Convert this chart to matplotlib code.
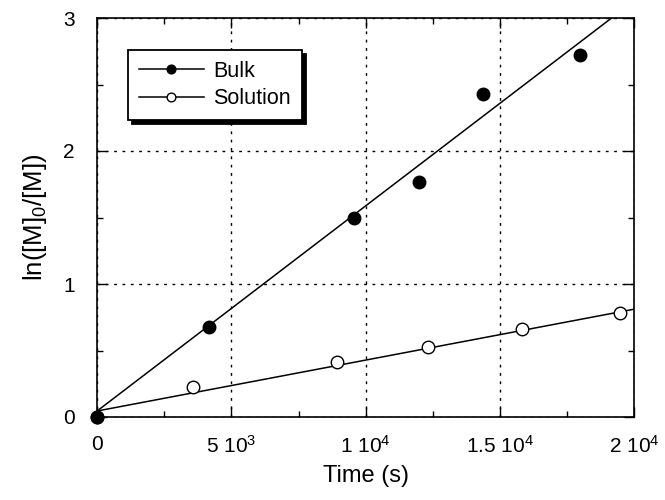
import numpy as np
import matplotlib
matplotlib.use("Agg")
import matplotlib.pyplot as plt
from matplotlib.ticker import FixedLocator, MultipleLocator

plt.rcParams['font.family'] = ['Liberation Sans', 'DejaVu Sans']
plt.rcParams['mathtext.fontset'] = 'custom'
plt.rcParams['mathtext.rm'] = 'Liberation Sans'
plt.rcParams['mathtext.it'] = 'Liberation Sans'

# Data
bulk_t = [0, 4160, 9550, 11970, 14350, 17990]
bulk_y = [0, 0.68, 1.50, 1.77, 2.43, 2.72]
sol_t = [0, 3570, 8920, 12300, 15800, 19480]
sol_y = [0, 0.225, 0.41, 0.53, 0.66, 0.785]
# fitted lines (intercept, slope)
bulk_fit = (0.045, 1.543e-4)
sol_fit = (0.045, 3.83e-5)

xticks = [0, 5000, 10000, 15000, 20000]
xticklabels = ['0', '5 10$^3$', '1 10$^4$', '1.5 10$^4$', '2 10$^4$']
yticks = [0, 1, 2, 3]

fig = plt.figure(figsize=(6.65, 5.0), dpi=100)
ax = fig.add_axes([0.146, 0.166, 0.808, 0.798])

tt = np.array([0, 20000])
ax.plot(tt, bulk_fit[0] + bulk_fit[1] * tt, color='black', lw=1.1, zorder=3)
ax.plot(tt, sol_fit[0] + sol_fit[1] * tt, color='black', lw=1.1, zorder=3)
ax.plot(sol_t, sol_y, 'o', mfc='white', mec='black', ms=9, mew=1.0, zorder=4, clip_on=False)
ax.plot(bulk_t, bulk_y, 'o', mfc='black', mec='black', ms=9, zorder=5, clip_on=False)

# legend handles
h1, = ax.plot([], [], '-o', color='black', mfc='black', ms=9, lw=1.1)
h2, = ax.plot([], [], '-o', color='black', mfc='white', ms=9, lw=1.1, mew=1.0)
leg = ax.legend([h1, h2], ['Bulk', 'Solution'], loc='upper left',
                bbox_to_anchor=(0.058, 0.92), borderaxespad=0.0,
                frameon=True, fancybox=False,
                shadow={'ox': 3, 'oy': -3, 'color': 'black', 'alpha': 1.0},
                edgecolor='black', framealpha=1.0, fontsize=15.5,
                handlelength=3.0, markerscale=0.7,
                borderpad=0.5, labelspacing=0.3, handletextpad=0.45)
leg.get_frame().set_linewidth(1.3)

ax.set_xlim(0, 20000)
ax.set_ylim(0, 3)
ax.xaxis.set_major_locator(FixedLocator(xticks))
ax.set_xticklabels(xticklabels)
ax.yaxis.set_major_locator(FixedLocator(yticks))
ax.xaxis.set_minor_locator(MultipleLocator(2500))
ax.yaxis.set_minor_locator(MultipleLocator(0.5))
ax.tick_params(which='both', direction='in', top=True, right=True, labelsize=15)
ax.tick_params(which='major', length=7, width=1.0)
ax.tick_params(which='minor', length=4, width=1.0)
ax.tick_params(axis='x', which='major', pad=13)
ax.tick_params(axis='y', which='major', pad=16)
ax.grid(True, which='major', linestyle=(0, (2, 4)), color='black', lw=1.0)
for s in ax.spines.values():
    s.set_linewidth(1.2)

ax.set_xlabel('Time (s)', fontsize=17, labelpad=6)
ax.set_ylabel('ln([M]$_0$/[M])', fontsize=18.5, labelpad=10)

fig.savefig('out.png', dpi=100)
